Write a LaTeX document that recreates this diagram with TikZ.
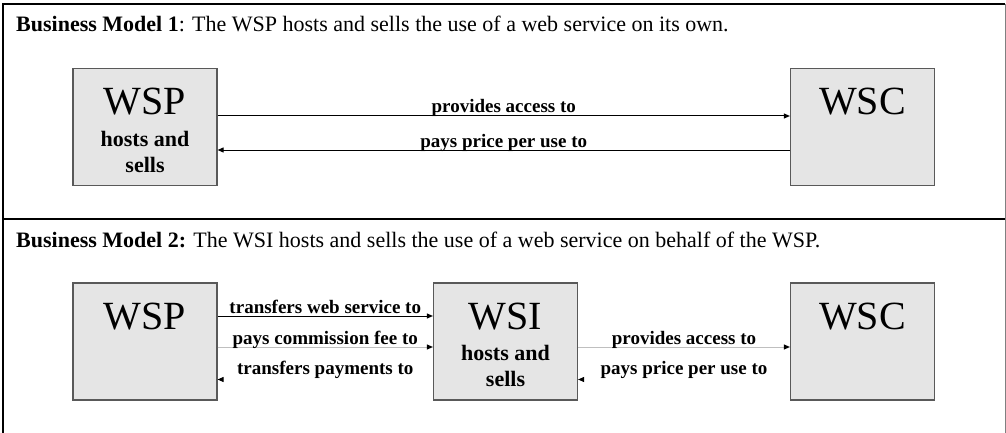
\documentclass[tikz,border=0pt]{standalone}
\usepackage{fontspec}
\setmainfont{Liberation Serif}
\usetikzlibrary{positioning,arrows.meta}

\begin{document}
\begin{tikzpicture}[x=1pt,y=-1pt,
    party/.style={draw=black!65, fill=black!10, line width=1.2pt,
      minimum width=144pt, minimum height=117pt, inner sep=0pt},
    partyname/.style={font=\fontsize{40}{40}\selectfont, anchor=base, inner sep=0pt},
    role/.style={font=\fontsize{22}{26}\selectfont\bfseries, anchor=base, inner sep=0pt},
    flow/.style={font=\fontsize{19}{22}\selectfont\bfseries, anchor=base, inner sep=0pt},
    flowarrow/.style={-{Triangle[length=6pt,width=5pt,color=black]}, line width=1pt},
    heading/.style={font=\fontsize{22}{26}\selectfont, anchor=base west, inner sep=0pt}]

  \useasboundingbox (0,0) rectangle (1006,433);

  % Frame
  \draw[line width=2pt] (3,433) -- (3,4) -- (1005,4);
  \draw[black!50, line width=1pt] (1005,4) -- (1005,433);
  \draw[line width=2pt] (3,219) -- (1005,219);

  %% Model 1
  \node[heading] (head1) at (16,32) {\textbf{Business Model 1}: The WSP hosts and sells the use of a web service on its own.};

  \node[party] (wsp1) at (145,127) {};
  \node[party] (wsc1) at (862.5,127) {};
  % Labels
  \node[partyname] (wsp1name) at ([yshift=-47pt]wsp1.north) {WSP};
  \node[role] (wsp1role) at ([yshift=-79pt]wsp1.north) {hosts and};
  \node[role] (wsp1role2) at ([yshift=-105pt]wsp1.north) {sells};
  \node[partyname] (wsc1name) at ([yshift=-47pt]wsc1.north) {WSC};

  % Lines
  \draw[flowarrow] ([yshift=11pt]wsp1.east) -- ([yshift=11pt]wsc1.west)
    node[flow, midway, yshift=3pt] (access1) {provides access to};
  \draw[flowarrow] ([yshift=-23pt]wsc1.west) -- ([yshift=-23pt]wsp1.east)
    node[flow, midway, yshift=3pt] (price1) {pays price per use to};

  %%%%%%%%%%%%%%%%%%%%%%%%%%

  %% Model 2
  \node[heading] (head2) at (16,247) {\textbf{Business Model 2:} The WSI hosts and sells the use of a web service on behalf of the WSP.};

  \node[party] (wsp2) at (145,341.5) {};
  \node[party] (wsi2) at (505.5,341.5) {};
  \node[party] (wsc2) at (862.5,341.5) {};
  % Labels
  \node[partyname] (wsp2name) at ([yshift=-47pt]wsp2.north) {WSP};
  \node[partyname] (wsi2name) at ([yshift=-47pt]wsi2.north) {WSI};
  \node[role] (wsi2role) at ([yshift=-78pt]wsi2.north) {hosts and};
  \node[role] (wsi2role2) at ([yshift=-104pt]wsi2.north) {sells};
  \node[partyname] (wsc2name) at ([yshift=-47pt]wsc2.north) {WSC};

  % Lines
  \draw[flowarrow] ([yshift=25.5pt]wsp2.east) -- ([yshift=25.5pt]wsi2.west)
    node[flow, midway, yshift=3pt] (transfer2) {transfers web service to};
  \draw[flowarrow, black!25] ([yshift=-5.5pt]wsp2.east) -- ([yshift=-5.5pt]wsi2.west)
    node[flow, black, midway, yshift=3pt] (fee2) {pays commission fee to};
  \draw[flowarrow, white] ([yshift=-38pt]wsi2.west) -- ([yshift=-38pt]wsp2.east)
    node[flow, black, midway, yshift=5pt] (payments2) {transfers payments to};
  \draw[flowarrow, black!25] ([yshift=-5.5pt]wsi2.east) -- ([yshift=-5.5pt]wsc2.west)
    node[flow, black, midway, yshift=3pt] (access2) {provides access to};
  \draw[flowarrow, white] ([yshift=-38pt]wsc2.west) -- ([yshift=-38pt]wsi2.east)
    node[flow, black, midway, yshift=5pt] (price2) {pays price per use to};
\end{tikzpicture}
\end{document}
